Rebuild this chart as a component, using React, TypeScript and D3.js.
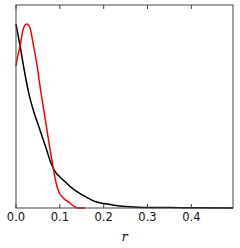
import * as d3 from "d3";

const width = 240;
const height = 248;
const margin = { top: 5, right: 7, bottom: 40, left: 16 };

// black curve (r, density)
const blackR = [0, 0.01, 0.02, 0.03, 0.04, 0.05, 0.06, 0.07, 0.08, 0.09, 0.1, 0.11, 0.125, 0.14, 0.16, 0.18, 0.2, 0.22, 0.25, 0.29, 0.35, 0.4, 0.495];
const blackV = [0.906, 0.79, 0.665, 0.557, 0.478, 0.414, 0.35, 0.286, 0.22, 0.177, 0.153, 0.133, 0.103, 0.079, 0.054, 0.032, 0.022, 0.015, 0.007, 0.003, 0.002, 0.001, 0];

// red curve
const redR = [0, 0.0045, 0.009, 0.016, 0.024, 0.032, 0.036, 0.041, 0.048, 0.055, 0.066, 0.077, 0.085, 0.091, 0.096, 0.108, 0.119, 0.134, 0.141, 0.157];
const redV = [0.7, 0.754, 0.795, 0.877, 0.906, 0.887, 0.847, 0.788, 0.704, 0.596, 0.448, 0.296, 0.197, 0.128, 0.089, 0.048, 0.031, 0.006, 0, 0];

const xTicks = [0, 0.1, 0.2, 0.3, 0.4];

export default function App() {
  const x = d3.scaleLinear().domain([0, 0.495]).range([margin.left, width - margin.right]);
  const y = d3.scaleLinear().domain([0, 1]).range([height - margin.bottom, margin.top]);

  const line = d3
    .line<[number, number]>()
    .x(d => x(d[0]))
    .y(d => y(d[1]))
    .curve(d3.curveMonotoneX);

  const black = line(blackR.map((r, i) => [r, blackV[i]]));
  const red = line(redR.map((r, i) => [r, redV[i]]));

  const x0 = margin.left;
  const x1 = width - margin.right;
  const y0 = height - margin.bottom;
  const y1 = margin.top;

  return (
    <svg width={width} height={height} style={{ position: "absolute", left: 0, top: 0 }}>
      <rect x={0} y={0} width={width} height={height} fill="white" />
      <path d={black ?? ""} fill="none" stroke="black" strokeWidth={1.5} />
      <path d={red ?? ""} fill="none" stroke="#ff0000" strokeWidth={1.5} />
      {xTicks.map(t => (
        <g key={t}>
          <line x1={x(t)} x2={x(t)} y1={y0} y2={y0 - 4} stroke="#444" />
          <line x1={x(t)} x2={x(t)} y1={y1} y2={y1 + 4} stroke="#444" />
          <text
            x={x(t)}
            y={y0 + 13}
            textAnchor="middle"
            fontFamily="DejaVu Sans"
            fontSize={11.5}
            fill="#111"
          >
            {t.toFixed(1)}
          </text>
        </g>
      ))}
      <rect x={x0} y={y1} width={x1 - x0} height={y0 - y1} fill="none" stroke="#444" strokeWidth={1} />
      <text
        x={(x0 + x1) / 2}
        y={241}
        textAnchor="middle"
        fontFamily="DejaVu Serif"
        fontStyle="italic"
        fontSize={13}
        fill="#111"
      >
        r
      </text>
    </svg>
  );
}
